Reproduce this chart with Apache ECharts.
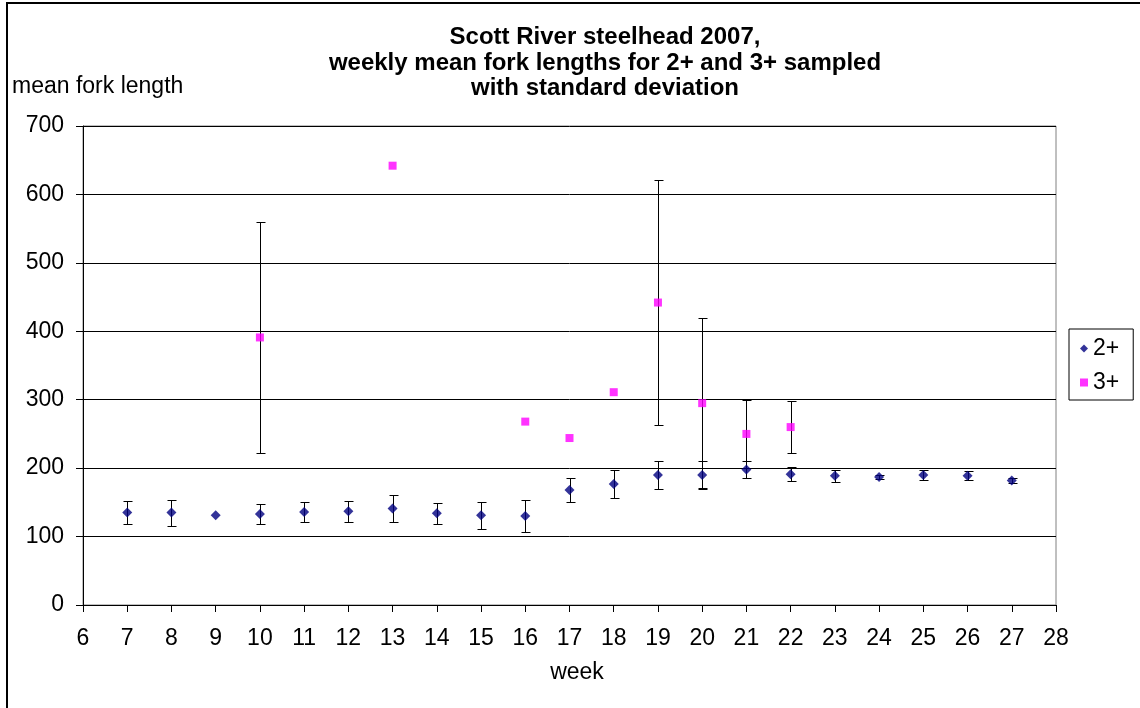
<!DOCTYPE html>
<html>
<head>
<meta charset="utf-8">
<script src="https://cdn.jsdelivr.net/npm/echarts@6/dist/echarts.min.js"></script>
<style>
  html, body { margin: 0; padding: 0; background: #fff; }
  #chart { width: 1140px; height: 708px; }
</style>
</head>
<body>
<div id="chart"></div>
<script>
// Weekly mean fork length (mm) with standard deviation, Scott River steelhead 2007
const weeks2 = [7, 8, 9, 10, 11, 12, 13, 14, 15, 16, 17, 18, 19, 20, 21, 22, 23, 24, 25, 26, 27];
const mean2  = [135, 135, 131, 133, 136, 137, 141, 134, 131, 130, 168, 177, 190, 190, 198, 191, 189, 187, 190, 189, 182];
const sd2    = [17, 19, null, 14, 15, 15, 20, 15, 20, 24, 18, 21, 21, 20, 12, 10, 9, 3, 8, 7, 3];

const weeks3 = [10, 13, 16, 17, 18, 19, 20, 21, 22];
const mean3  = [391, 642, 268, 244, 311, 442, 295, 250, 260];
const sd3    = [169, null, null, null, null, 179, 124, 50, 38];

const seriesNames = ['2+', '3+'];
const titleLines = ['Scott River steelhead 2007,', 'weekly mean fork lengths for 2+ and 3+ sampled', 'with standard deviation'];
const xName = 'week';
const yName = 'mean fork length';

const FONT = '"Liberation Sans", Arial, sans-serif';

function points(weeks, means) {
  return weeks.map((w, i) => [w, means[i]]);
}
function bars(weeks, means, sds) {
  const out = [];
  weeks.forEach((w, i) => {
    if (sds[i] != null) out.push([w, means[i] - sds[i], means[i] + sds[i]]);
  });
  return out;
}

// vertical error bar with short caps at both ends, snapped to the pixel grid
function renderErrorBar(params, api) {
  const x = api.value(0);
  const lo = api.coord([x, api.value(1)]);
  const hi = api.coord([x, api.value(2)]);
  const px = Math.round(lo[0]) + 0.5;
  const yl = Math.round(lo[1]) + 0.5;
  const yh = Math.round(hi[1]) + 0.5;
  const cap = 4;
  const style = { stroke: '#000', lineWidth: 1 };
  return {
    type: 'group',
    children: [
      { type: 'line', shape: { x1: px, y1: yl, x2: px, y2: yh }, style },
      { type: 'line', shape: { x1: px - cap, y1: yh, x2: px + cap + 1, y2: yh }, style },
      { type: 'line', shape: { x1: px - cap, y1: yl, x2: px + cap + 1, y2: yl }, style }
    ]
  };
}

const chart = echarts.init(document.getElementById('chart'), null, { renderer: 'canvas' });

chart.setOption({
  backgroundColor: '#fff',
  animation: false,
  textStyle: { fontFamily: FONT, color: '#000' },
  title: {
    text: titleLines.join('\n'),
    left: 600,
    top: 20,
    textAlign: 'center',
    textStyle: { fontFamily: FONT, fontSize: 24, fontWeight: 'bold', color: '#000', lineHeight: 25.5 }
  },
  grid: {
    left: 83, right: 84, top: 126, bottom: 103,
    show: true, borderColor: '#808080', borderWidth: 1, backgroundColor: 'transparent'
  },
  legend: {
    orient: 'vertical',
    left: 1069,
    top: 329,
    padding: [8, 14, 6, 11],
    itemWidth: 8,
    itemHeight: 8,
    itemGap: 11,
    itemStyle: { borderWidth: 0 },
    borderColor: '#000',
    borderWidth: 1,
    textStyle: { fontFamily: FONT, fontSize: 23, lineHeight: 22, color: '#000' },
    data: [
      { name: seriesNames[0], icon: 'diamond' },
      { name: seriesNames[1], icon: 'rect' }
    ]
  },
  xAxis: {
    type: 'value',
    min: 6, max: 28, interval: 1,
    axisLine: { show: true, onZero: false, lineStyle: { color: '#000', width: 1 } },
    axisTick: { show: true, inside: false, length: 7, lineStyle: { color: '#000' } },
    axisLabel: { fontFamily: FONT, fontSize: 23, color: '#000', margin: 22 },
    splitLine: { show: false }
  },
  yAxis: {
    type: 'value',
    min: 0, max: 700, interval: 100,
    axisLine: { show: true, onZero: false, lineStyle: { color: '#000', width: 1 } },
    axisTick: { show: true, inside: false, length: 7, lineStyle: { color: '#000' } },
    axisLabel: { fontFamily: FONT, fontSize: 23, color: '#000', margin: 19 },
    splitLine: { show: true, lineStyle: { color: '#000', width: 1 } }
  },
  graphic: [
    {
      type: 'rect', silent: true, z: 100,
      shape: { x: 7, y: 3, width: 1140, height: 720 },
      style: { fill: 'none', stroke: '#000', lineWidth: 2 }
    },
    {
      type: 'text', left: 12, top: 75,
      style: { text: yName, font: '23px ' + FONT, fill: '#000' }
    },
    {
      type: 'text', x: 577, y: 673,
      style: { text: xName, font: '23px ' + FONT, fill: '#000', align: 'center', verticalAlign: 'middle' }
    }
  ],
  series: [
    {
      type: 'custom',
      name: 'sd2',
      renderItem: renderErrorBar,
      encode: { x: 0, y: [1, 2] },
      data: bars(weeks2, mean2, sd2),
      z: 2,
      silent: true
    },
    {
      type: 'custom',
      name: 'sd3',
      renderItem: renderErrorBar,
      encode: { x: 0, y: [1, 2] },
      data: bars(weeks3, mean3, sd3),
      z: 2,
      silent: true
    },
    {
      type: 'scatter',
      name: seriesNames[0],
      symbol: 'diamond',
      symbolSize: 10,
      itemStyle: { color: '#000080' },
      data: points(weeks2, mean2),
      z: 3
    },
    {
      type: 'scatter',
      name: seriesNames[1],
      symbol: 'rect',
      symbolSize: 8,
      itemStyle: { color: '#FF00FF' },
      data: points(weeks3, mean3),
      z: 3
    }
  ]
});
</script>
</body>
</html>
